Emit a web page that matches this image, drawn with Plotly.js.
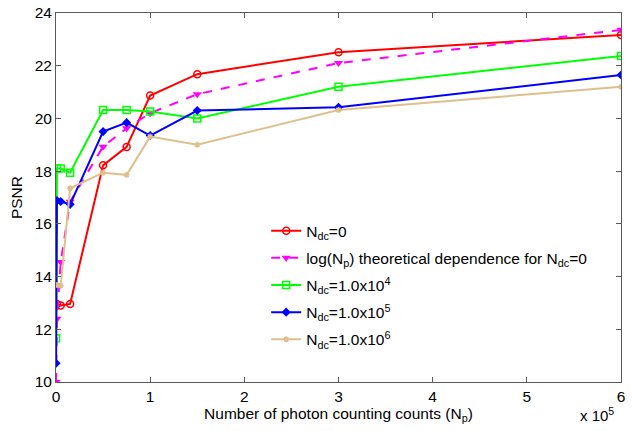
<!DOCTYPE html>
<html>
<head>
<meta charset="utf-8">
<script src="https://cdn.plot.ly/plotly-3.0.1.min.js"></script>
<style>html,body{margin:0;padding:0;background:#fff;}#chart{width:633px;height:431px;}</style>
</head>
<body>
<div id="chart"></div>
<script>
// photon counts (N_p)
const xFull = [100, 1000, 5000, 15000, 50000, 75000, 100000, 150000, 300000, 600000];
const xNine = [1000, 5000, 15000, 50000, 75000, 100000, 150000, 300000, 600000];

const psnrNdc0   = [12.96, 12.90, 12.96, 18.22, 18.92, 20.87, 21.68, 22.51, 23.17];
const psnrLog    = [10.00, 12.40, 14.55, 16.84, 18.93, 19.63, 20.20, 20.92, 22.10, 23.36];
const psnrNdc1e4 = [11.66, 18.10, 18.10, 17.94, 20.32, 20.32, 20.26, 20.00, 21.20, 22.37];
const psnrNdc1e5 = [10.71, 16.88, 16.85, 16.74, 19.50, 19.84, 19.35, 20.30, 20.42, 21.65];
const psnrNdc1e6 = [13.68, 13.65, 17.35, 17.94, 17.86, 19.31, 19.00, 20.32, 21.20];

const xTickVals = [0, 100000, 200000, 300000, 400000, 500000, 600000];
const xTickText = ['0', '1', '2', '3', '4', '5', '6'];
const yTickVals = [10, 12, 14, 16, 18, 20, 22, 24];

const names = [
  'N<sub>dc</sub>=0',
  'log(N<sub>p</sub>) theoretical dependence for N<sub>dc</sub>=0',
  'N<sub>dc</sub>=1.0x10<sup>4</sup>',
  'N<sub>dc</sub>=1.0x10<sup>5</sup>',
  'N<sub>dc</sub>=1.0x10<sup>6</sup>'
];

const traces = [
  {x: xNine, y: psnrNdc0, name: names[0], legendgroup: 'a', mode: 'lines+markers',
   line: {color: '#ff0000', width: 2}, marker: {symbol: 'circle-open', size: 7, color: '#ff0000', line: {width: 1.5}}},
  {x: xFull, y: psnrLog, name: names[1], legendgroup: 'b', mode: 'lines+markers',
   line: {color: '#ff00ff', width: 2, dash: 'dash'}, marker: {symbol: 'triangle-down', size: 8, color: '#ff00ff'}},
  {x: xFull, y: psnrNdc1e4, name: names[2], legendgroup: 'c', mode: 'lines+markers',
   line: {color: '#00ff00', width: 2}, marker: {symbol: 'square-open', size: 7, color: '#00ff00', line: {width: 1.5}}},
  {x: xFull, y: psnrNdc1e5, name: names[3], legendgroup: 'd', mode: 'lines+markers',
   line: {color: '#0000ff', width: 2}, marker: {symbol: 'diamond', size: 7, color: '#0000ff'}},
  {x: xNine, y: psnrNdc1e6, name: names[4], legendgroup: 'e', mode: 'lines+markers',
   line: {color: '#dfc08c', width: 2}, marker: {symbol: 'asterisk-open', size: 5, color: '#dfc08c', line: {width: 1.5}}}
];

const FONT = 'Liberation Sans, Arial, sans-serif';

const axisCommon = {
  showline: true, mirror: 'ticks', linecolor: '#5a5a5a', linewidth: 1,
  ticks: 'inside', ticklen: 5, tickcolor: '#5a5a5a', showgrid: false, zeroline: false,
  tickfont: {family: FONT, size: 15.5, color: '#000'}
};

const layout = {
  width: 633, height: 431,
  margin: {l: 56, r: 12, t: 13, b: 48.5},
  paper_bgcolor: '#fff', plot_bgcolor: '#fff',
  font: {family: FONT, size: 15, color: '#000'},
  xaxis: Object.assign({}, axisCommon, {
    range: [0, 600000], tickvals: xTickVals, ticktext: xTickText,
    title: {text: 'Number of photon counting counts (N<sub>p</sub>)', standoff: 1,
            font: {family: FONT, size: 15.5, color: '#000'}}
  }),
  yaxis: Object.assign({}, axisCommon, {
    range: [10, 24], tickvals: yTickVals,
    title: {text: 'PSNR', standoff: 8,
            font: {family: FONT, size: 15.5, color: '#000'}}
  }),
  showlegend: true,
  legend: {
    x: 0.372, y: 0.455, xanchor: 'left', yanchor: 'top',
    bgcolor: 'rgba(0,0,0,0)', borderwidth: 0,
    traceorder: 'grouped', tracegroupgap: 4,
    font: {family: FONT, size: 15.5, color: '#000'}
  },
  annotations: [{
    xref: 'paper', yref: 'paper', x: 0.992, y: 0, xanchor: 'right', yanchor: 'top',
    yshift: -21, showarrow: false, text: 'x 10<sup>5</sup>',
    font: {family: FONT, size: 15, color: '#000'}
  }]
};

Plotly.newPlot('chart', traces, layout, {displayModeBar: false, staticPlot: true});
</script>
</body>
</html>
